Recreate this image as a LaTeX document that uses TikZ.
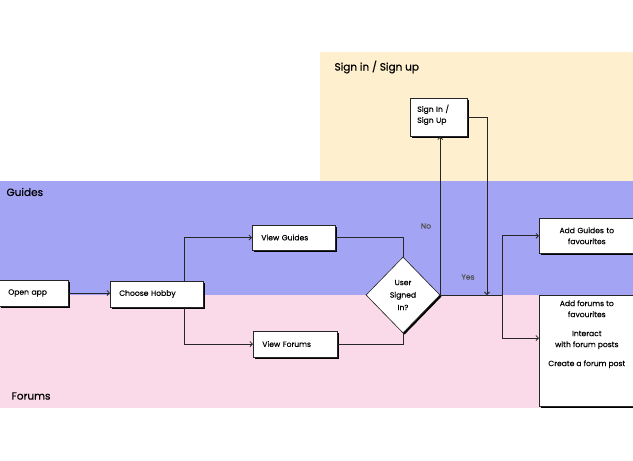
\documentclass[tikz,border=0pt]{standalone}
\usepackage{fontspec}
\setmainfont{Poppins}[FakeBold=0.25]
\newfontfamily\lanefont{Poppins}[FakeBold=0.6]
\usetikzlibrary{arrows.meta,positioning,shapes.geometric,shadows}

\definecolor{signinbg}{HTML}{FEEFCE}
\definecolor{guidesbg}{HTML}{A4A4F4}
\definecolor{forumsbg}{HTML}{FADAE9}
\definecolor{linegray}{HTML}{262626}

\begin{document}
\begin{tikzpicture}[x=1pt, y=-1pt,
    actbox/.style={draw=linegray, fill=white, line width=0.6pt, align=left,
        inner xsep=9pt, inner ysep=0pt, font=\fontsize{7.6}{11}\selectfont,
        drop shadow={shadow xshift=1.6pt, shadow yshift=-1.6pt, fill=black, opacity=1}},
    link/.style={draw=linegray, line width=0.75pt},
    arr/.style={link, -{Straight Barb[length=2.5pt,width=5pt]}},
    title/.style={anchor=west, font=\lanefont\fontsize{10.5}{12}\selectfont}]
    \useasboundingbox (0,0) rectangle (633,461);

    % Swimlanes
    \fill[signinbg] (320,52) rectangle (633,181);
    \fill[guidesbg] (0,181) rectangle (633,295);
    \fill[forumsbg] (0,295) rectangle (633,408);
    \node[title] (tsign) at (331,67) {Sign in / Sign up};
    \node[title] (tguides) at (3,192) {Guides};
    \node[title] (tforums) at (8,396) {Forums};

    % Steps
    \node[actbox, anchor=west, text width=51pt, minimum height=26pt] (open) at (-1,293) {Open app};
    \node[actbox, anchor=west, text width=75pt, minimum height=26pt] (hobby) at (110,294) {Choose Hobby};
    \node[actbox, anchor=west, text width=65pt, minimum height=25pt] (guides) at (252,237.5) {View Guides};
    \node[actbox, anchor=west, text width=66pt, minimum height=26pt] (forums) at (253,344) {View Forums};
    \node[actbox, anchor=north west, inner xsep=7pt, text width=43pt, minimum height=38pt] (signin) at (410,98) {Sign In /\\Sign Up\\[-4pt]\mbox{}};
    \node[actbox, anchor=north west, align=center, inner xsep=0pt, text width=95pt, minimum height=35pt] (addguides) at (539,218) {Add Guides to\\favourites};
    \node[actbox, anchor=north west, inner xsep=0pt, inner ysep=0pt] (addforums) at (539,295)
        {\parbox[c][111pt][t]{95pt}{\centering\vspace{5pt}Add forums to\\favourites\\[8pt]Interact\\with forum posts\\[8pt]Create a forum post}};

    % Decision
    \node[diamond, draw=linegray, fill=white, line width=0.6pt, minimum width=74pt, minimum height=76pt,
        inner sep=0pt, align=center, font=\fontsize{7.6}{12.5}\selectfont,
        drop shadow={shadow xshift=1.6pt, shadow yshift=-1.6pt, fill=black, opacity=1}] (signed) at (403,295) {User\\Signed\\In?};

    % Connectors
    \coordinate (hub) at (184,294);
    \coordinate (fork) at (502,295);
    \coordinate (yesin) at (487,295);
    \draw[arr] (open.east) -- (open.east -| hobby.west);
    \draw[arr] (hobby.north -| hub) |- (guides.west);
    \draw[arr] (hobby.south -| hub) |- (forums.west);
    \draw[link] (guides.east) -| (signed.north);
    \draw[link] (forums.east) -| (signed.south);
    \draw[link] (signed.east) -- (fork);
    \draw[arr] (signed.east) -- (signed.east |- signin.south);
    \draw[arr] (signin.east) -| (yesin);
    \draw[arr] (fork) |- (addguides.west);
    \draw[arr] (fork) |- ([yshift=-43pt]addforums.north west);

    % Branch labels
    \node[font=\fontsize{7.6}{9}\selectfont, text=linegray!80] (nolbl) at (426,226) {No};
    \node[font=\fontsize{7.6}{9}\selectfont, text=linegray!80] (yeslbl) at (468,277) {Yes};
\end{tikzpicture}
\end{document}
